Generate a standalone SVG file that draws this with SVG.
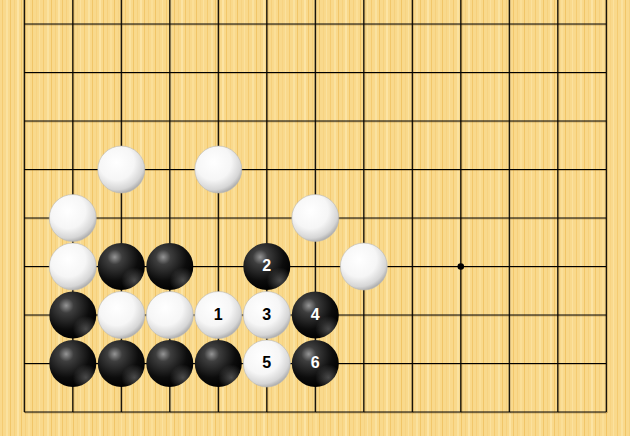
<svg xmlns="http://www.w3.org/2000/svg" width="630" height="436" viewBox="0 0 630 436">
<defs>
<pattern id="wood" patternUnits="userSpaceOnUse" width="41" height="436">
<rect width="41" height="436" fill="#F9D98C"/>
<rect x="2" width="1" height="436" fill="#F0C160" opacity="0.6"/>
<rect x="6" width="2" height="436" fill="#FCE6A8" opacity="0.7"/>
<rect x="10" width="1" height="436" fill="#EFBE5A" opacity="0.7"/>
<rect x="14" width="1" height="436" fill="#F3C96E" opacity="0.5"/>
<rect x="17" width="2" height="436" fill="#FDEBB4" opacity="0.6"/>
<rect x="21" width="1" height="436" fill="#EDBB55" opacity="0.6"/>
<rect x="25" width="1" height="436" fill="#F4CA72" opacity="0.6"/>
<rect x="28" width="2" height="436" fill="#FCE3A0" opacity="0.6"/>
<rect x="32" width="1" height="436" fill="#EEBD58" opacity="0.7"/>
<rect x="36" width="1" height="436" fill="#F5CD78" opacity="0.5"/>
<rect x="39" width="1" height="436" fill="#FCE6AA" opacity="0.6"/>
</pattern>
<radialGradient id="gb" cx="0.36" cy="0.3" r="0.72">
<stop offset="0" stop-color="#959595"/>
<stop offset="0.22" stop-color="#3e3e3e"/>
<stop offset="0.7" stop-color="#0c0c0c"/>
<stop offset="1" stop-color="#000"/>
</radialGradient>
<radialGradient id="gbr" cx="0.78" cy="0.8" r="0.28">
<stop offset="0" stop-color="#fff" stop-opacity="0.28"/>
<stop offset="1" stop-color="#fff" stop-opacity="0"/>
</radialGradient>
<radialGradient id="gw" cx="0.4" cy="0.35" r="0.68">
<stop offset="0" stop-color="#ffffff"/>
<stop offset="0.55" stop-color="#f6f6f6"/>
<stop offset="0.85" stop-color="#d6d6d6"/>
<stop offset="1" stop-color="#a8a8a8"/>
</radialGradient>
<style>
.g{stroke:#000;stroke-width:1.2;fill:none}
.gs{stroke:#7a5a20;stroke-width:1;fill:none;opacity:0.35}
.b{fill:url(#gb)}
.br{fill:url(#gbr)}
.w{fill:url(#gw);stroke:#b8b8b8;stroke-width:0.6}
.n{font-family:"Liberation Sans",Arial,sans-serif;font-weight:bold;font-size:16px;text-anchor:middle}
.nb{fill:#000}
.nw{fill:#fff}
</style>
</defs>
<rect width="630" height="436" fill="url(#wood)"/>
<g id="connectors">
<path class="gs" d="M25.3 0V413M73.8 0V413M122.3 0V413M170.8 0V413M219.3 0V413M267.8 0V413M316.3 0V413M364.8 0V413M413.3 0V413M461.8 0V413M510.3 0V413M558.8 0V413M607.3 0V413M25 25H607M25 73.5H607M25 122H607M25 170.5H607M25 219H607M25 267.5H607M25 316H607M25 364.5H607M25 413H607"/>
<path class="g" d="M24.3 0V412M72.8 0V412M121.3 0V412M169.8 0V412M218.3 0V412M266.8 0V412M315.3 0V412M363.8 0V412M412.3 0V412M460.8 0V412M509.3 0V412M557.8 0V412M606.3 0V412M24.3 24H606.3M24.3 72.5H606.3M24.3 121H606.3M24.3 169.5H606.3M24.3 218H606.3M24.3 266.5H606.3M24.3 315H606.3M24.3 363.5H606.3M24.3 412H606.3"/>
<circle cx="460.8" cy="266.5" r="3.3" fill="#000"/>
</g>
<g id="w_a"><circle class="w" cx="121.3" cy="169.5" r="23.5"/></g>
<g id="w_b"><circle class="w" cx="218.3" cy="169.5" r="23.5"/></g>
<g id="w_c"><circle class="w" cx="72.8" cy="218" r="23.5"/></g>
<g id="w_d"><circle class="w" cx="315.3" cy="218" r="23.5"/></g>
<g id="w_e"><circle class="w" cx="72.8" cy="266.5" r="23.5"/></g>
<g id="w_f"><circle class="w" cx="363.8" cy="266.5" r="23.5"/></g>
<g id="w_g"><circle class="w" cx="121.3" cy="315" r="23.5"/></g>
<g id="w_h"><circle class="w" cx="169.8" cy="315" r="23.5"/></g>
<g id="b_a"><circle class="b" cx="121.3" cy="266.5" r="23.5"/><circle class="br" cx="121.3" cy="266.5" r="23.5"/></g>
<g id="b_b"><circle class="b" cx="169.8" cy="266.5" r="23.5"/><circle class="br" cx="169.8" cy="266.5" r="23.5"/></g>
<g id="b_c"><circle class="b" cx="72.8" cy="315" r="23.5"/><circle class="br" cx="72.8" cy="315" r="23.5"/></g>
<g id="b_d"><circle class="b" cx="72.8" cy="363.5" r="23.5"/><circle class="br" cx="72.8" cy="363.5" r="23.5"/></g>
<g id="b_e"><circle class="b" cx="121.3" cy="363.5" r="23.5"/><circle class="br" cx="121.3" cy="363.5" r="23.5"/></g>
<g id="b_f"><circle class="b" cx="169.8" cy="363.5" r="23.5"/><circle class="br" cx="169.8" cy="363.5" r="23.5"/></g>
<g id="b_g"><circle class="b" cx="218.3" cy="363.5" r="23.5"/><circle class="br" cx="218.3" cy="363.5" r="23.5"/></g>
<g id="m1"><circle class="w" cx="218.3" cy="315" r="23.5"/><text class="n nb" x="218.3" y="319.5">1</text></g>
<g id="m2"><circle class="b" cx="266.8" cy="266.5" r="23.5"/><circle class="br" cx="266.8" cy="266.5" r="23.5"/><text class="n nw" x="266.8" y="271">2</text></g>
<g id="m3"><circle class="w" cx="266.8" cy="315" r="23.5"/><text class="n nb" x="266.8" y="319.5">3</text></g>
<g id="m4"><circle class="b" cx="315.3" cy="315" r="23.5"/><circle class="br" cx="315.3" cy="315" r="23.5"/><text class="n nw" x="315.3" y="319.5">4</text></g>
<g id="m5"><circle class="w" cx="266.8" cy="363.5" r="23.5"/><text class="n nb" x="266.8" y="368">5</text></g>
<g id="m6"><circle class="b" cx="315.3" cy="363.5" r="23.5"/><circle class="br" cx="315.3" cy="363.5" r="23.5"/><text class="n nw" x="315.3" y="368">6</text></g>
</svg>
